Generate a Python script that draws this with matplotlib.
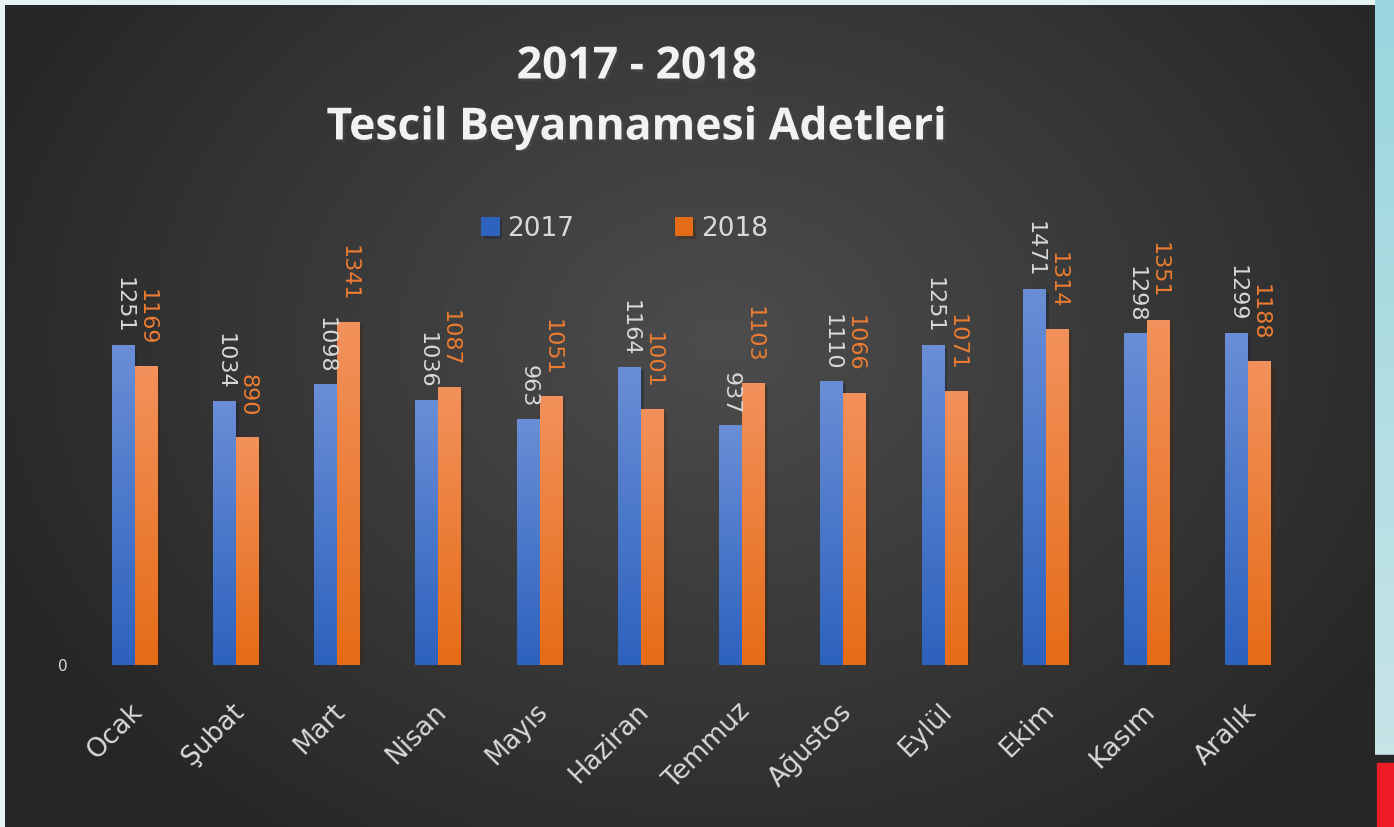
import numpy as np
import matplotlib.pyplot as plt
import matplotlib.patheffects as pe
from matplotlib.patches import Rectangle

months = ["Ocak", "Şubat", "Mart", "Nisan", "Mayıs", "Haziran",
          "Temmuz", "Ağustos", "Eylül", "Ekim", "Kasım", "Aralık"]
y2017 = [1251, 1034, 1098, 1036, 963, 1164, 937, 1110, 1251, 1471, 1298, 1299]
y2018 = [1169, 890, 1341, 1087, 1051, 1001, 1103, 1066, 1071, 1314, 1351, 1188]

W, H = 1394, 827
fig = plt.figure(figsize=(W / 100, H / 100), dpi=100)

# --- fondo: marco claro + panel oscuro con degradado radial ---
bg = fig.add_axes([0, 0, 1, 1])
bg.set_xlim(0, W)
bg.set_ylim(H, 0)
bg.axis("off")
bg.add_patch(Rectangle((0, 0), W, H, color="#e4f2f4"))
yy = np.linspace(0, 1, 200)[:, None]
teal = np.dstack([0.60 + 0.2 * yy, 0.84 + 0.06 * yy, 0.87 + 0.04 * yy]) * np.ones((1, 10, 1))
bg.imshow(teal, extent=[1375, W, H, 0], aspect="auto", zorder=1)

gx, gy = np.meshgrid(np.linspace(5, 1375, 400), np.linspace(5, H, 260))
r = np.sqrt(((gx - 720) / 900) ** 2 + ((gy - 340) / 700) ** 2)
v = np.clip(0.30 - 0.17 * r, 0.15, 0.30)
bg.imshow(np.dstack([v, v, v]), extent=[5, 1375, H, 5], aspect="auto", zorder=2)
bg.add_patch(Rectangle((1368, 755), 30, 80, color="#262626", zorder=3))
bg.add_patch(Rectangle((1377, 763), 20, 70, color="#ee1c25", zorder=4))

# --- titulo ---
shadow = [pe.withSimplePatchShadow(offset=(2, -2), alpha=0.6)]
fig.text(637 / W, 1 - 67 / H, "2017 - 2018", ha="center", va="center",
         fontsize=32, fontweight="bold", family="Open Sans", color="#f2f2f2",
         path_effects=shadow)
fig.text(637 / W, 1 - 128 / H, "Tescil Beyannamesi Adetleri", ha="center", va="center",
         fontsize=32, fontweight="bold", family="Open Sans", color="#f2f2f2",
         path_effects=shadow)

# --- grafico ---
ax = fig.add_axes([84 / W, 1 - 665 / H, (1299 - 84) / W, (665 - 256) / H])
ax.patch.set_alpha(0)
ax.set_xlim(-0.5, len(months) - 0.5)
ax.set_ylim(0, 1600)
for s in ax.spines.values():
    s.set_visible(False)

x = np.arange(len(months))
bw = 0.227
grad = np.linspace(0, 1, 100)[:, None]


def gradient_bars(xs, vals, top, bottom, label):
    bars = ax.bar(xs, vals, width=bw, color=bottom, label=label, zorder=3,
                  path_effects=[pe.withSimplePatchShadow(offset=(2, -2), alpha=0.35)])
    t = np.array(plt.matplotlib.colors.to_rgb(top))
    b = np.array(plt.matplotlib.colors.to_rgb(bottom))
    img = (b + (t - b) * grad)[:, None, :]
    for bar in bars:
        x0, w, h = bar.get_x(), bar.get_width(), bar.get_height()
        im = ax.imshow(img, extent=[x0, x0 + w, 0, h], origin="lower",
                       aspect="auto", zorder=4)
        im.set_clip_path(bar)
    return bars


b1 = gradient_bars(x - bw / 2, y2017, "#6a8ed6", "#2d62bd", "2017")
b2 = gradient_bars(x + bw / 2, y2018, "#f3915c", "#e56c17", "2018")

for xi, v in zip(x, y2017):
    ax.annotate(str(v), (xi - bw / 2, v), xytext=(0, 8), textcoords="offset points",
                rotation=-90, ha="center", va="bottom", fontsize=16,
                color="#d9d9d9", zorder=5)
for xi, v in zip(x, y2018):
    ax.annotate(str(v), (xi + bw / 2, v), xytext=(0, 15), textcoords="offset points",
                rotation=-90, ha="center", va="bottom", fontsize=16,
                color="#ed7d31", zorder=5)

ax.set_yticks([0])
ax.set_yticklabels(["0"], fontsize=11, color="#d9d9d9")
ax.tick_params(axis="y", length=0, pad=12)
ax.set_xticks(x - 0.05)
ax.set_xticklabels(months, rotation=45, ha="right", rotation_mode="anchor",
                   fontsize=19, color="#d9d9d9")
ax.tick_params(axis="x", length=0, pad=24)
ax.set_ylim(0, 1600)

leg = ax.legend(loc="upper center", bbox_to_anchor=(0.445, 1.156), ncol=2, frameon=False,
                fontsize=19, labelcolor="#d9d9d9", handlelength=0.7, handleheight=0.7,
                columnspacing=3.8, handletextpad=0.3)

fig.savefig("out.png", dpi=100)
